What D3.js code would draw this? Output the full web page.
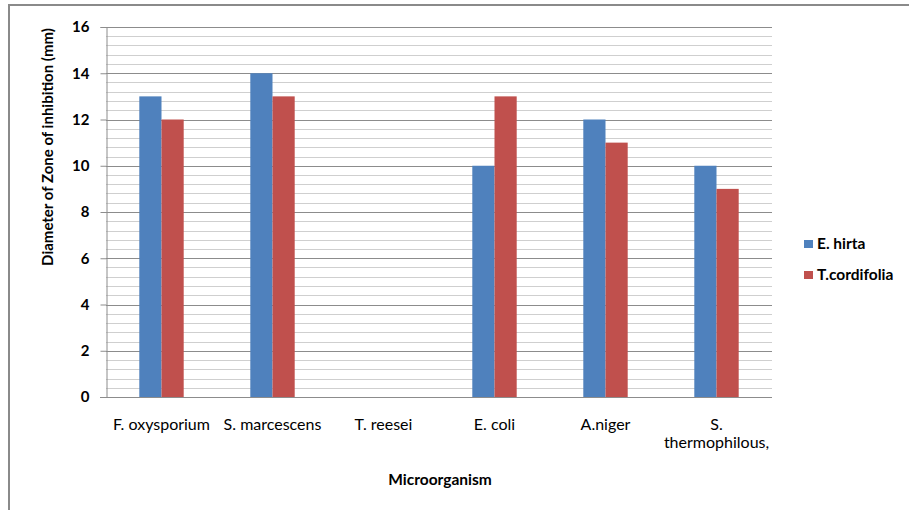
<!DOCTYPE html>
<html>
<head>
<meta charset="utf-8">
<script src="https://cdn.jsdelivr.net/npm/d3@7"></script>
<style>
  html, body { margin: 0; padding: 0; background: #fff; }
  svg { display: block; font-family: Lato, "Open Sans", sans-serif; }
</style>
</head>
<body>
<svg id="chart" width="909" height="510"></svg>
<script>
// Zone of inhibition by microorganism, for two plant extracts
const categories = ["F. oxysporium", "S. marcescens", "T. reesei", "E. coli", "A.niger", "S. thermophilous,"];
const seriesNames = ["E. hirta", "T.cordifolia"];
const eHirta = [13, 14, 0, 10, 12, 10];
const tCordifolia = [12, 13, 0, 13, 11, 9];
const yTicks = [0, 2, 4, 6, 8, 10, 12, 14, 16];
const colors = ["#4f81bd", "#c0504d"];

const seriesValues = [eHirta, tCordifolia];
const rows = categories.map((c, i) => ({
  category: c,
  values: seriesNames.map((s, j) => ({ series: s, value: seriesValues[j][i] }))
}));

const svg = d3.select("#chart");

// outer frame
svg.append("rect")
  .attr("x", 9).attr("y", 5).attr("width", 960).attr("height", 600)
  .attr("fill", "none").attr("stroke", "#8a8a8a").attr("stroke-width", 2);

const plotLeft = 106, plotRight = 772, plotTop = 27, plotBottom = 397;

const x = d3.scaleBand().domain(categories).range([plotLeft, plotRight])
  .paddingInner(0.6).paddingOuter(0.3);
const x1 = d3.scaleBand().domain(seriesNames).range([0, x.bandwidth()]);
const y = d3.scaleLinear().domain([0, 16]).range([plotBottom, plotTop]);

// minor gridlines every 0.4
const minor = d3.range(0, 16.001, 0.4).filter(v => Math.abs(v / 2 - Math.round(v / 2)) > 1e-6);
svg.append("g").selectAll("line").data(minor).join("line")
  .attr("x1", plotLeft).attr("x2", plotRight)
  .attr("y1", d => Math.round(y(d)) + 0.5).attr("y2", d => Math.round(y(d)) + 0.5)
  .attr("stroke", "#cfcfcf").attr("stroke-width", 1);

// major gridlines
svg.append("g").selectAll("line").data(yTicks.slice(1)).join("line")
  .attr("x1", plotLeft).attr("x2", plotRight)
  .attr("y1", d => Math.round(y(d)) + 0.5).attr("y2", d => Math.round(y(d)) + 0.5)
  .attr("stroke", "#8c8c8c").attr("stroke-width", 1);

// bars
const groups = svg.append("g").selectAll("g").data(rows).join("g")
  .attr("transform", d => `translate(${x(d.category)},0)`);
groups.selectAll("rect").data(d => d.values.filter(v => v.value > 0)).join("rect")
  .attr("x", d => x1(d.series))
  .attr("y", d => y(d.value))
  .attr("width", x1.bandwidth())
  .attr("height", d => y(0) - y(d.value))
  .attr("fill", d => colors[seriesNames.indexOf(d.series)]);

// y axis
const yAxis = svg.append("g")
  .attr("transform", `translate(${plotLeft + 0.5},0)`)
  .call(d3.axisLeft(y).tickValues(yTicks).tickSize(6).tickPadding(11).tickFormat(d3.format("d")));
yAxis.select(".domain").attr("stroke", "#8c8c8c");
yAxis.selectAll(".tick line").attr("stroke", "#8c8c8c");
yAxis.selectAll(".tick text")
  .attr("font-size", 15).attr("font-weight", "bold").attr("fill", "#000")
  .style("font-family", "Lato, sans-serif");

// x baseline
svg.append("line")
  .attr("x1", plotLeft - 6).attr("x2", plotRight)
  .attr("y1", Math.round(y(0)) + 0.5).attr("y2", Math.round(y(0)) + 0.5)
  .attr("stroke", "#8c8c8c");

// category labels
const catLabels = svg.append("g").selectAll("text").data(categories).join("text")
  .attr("x", d => x(d) + x.bandwidth() / 2)
  .attr("y", 430)
  .attr("text-anchor", "middle")
  .attr("font-size", 16).attr("fill", "#000");
catLabels.each(function(d) {
  const t = d3.select(this);
  const parts = d === "S. thermophilous," ? ["S.", "thermophilous,"] : [d];
  parts.forEach((p, i) => {
    t.append("tspan").attr("x", x(d) + x.bandwidth() / 2).attr("dy", i === 0 ? 0 : 18).text(p);
  });
});

// axis titles
svg.append("text")
  .attr("x", 440).attr("y", 485)
  .attr("text-anchor", "middle")
  .attr("font-size", 15.5).attr("font-weight", "bold")
  .text("Microorganism");

svg.append("text")
  .attr("transform", "translate(53,147) rotate(-90)")
  .attr("text-anchor", "middle")
  .attr("font-size", 15).attr("font-weight", "bold")
  .text("Diameter of Zone of inhibition (mm)");

// legend
const legend = svg.append("g").selectAll("g").data(seriesNames).join("g")
  .attr("transform", (d, i) => `translate(804,${240 + i * 31})`);
legend.append("rect").attr("width", 9).attr("height", 8)
  .attr("fill", (d, i) => colors[i]);
legend.append("text").attr("x", 13).attr("y", 9)
  .attr("font-size", 15.5).attr("font-weight", "bold")
  .text(d => d);
</script>
</body>
</html>
